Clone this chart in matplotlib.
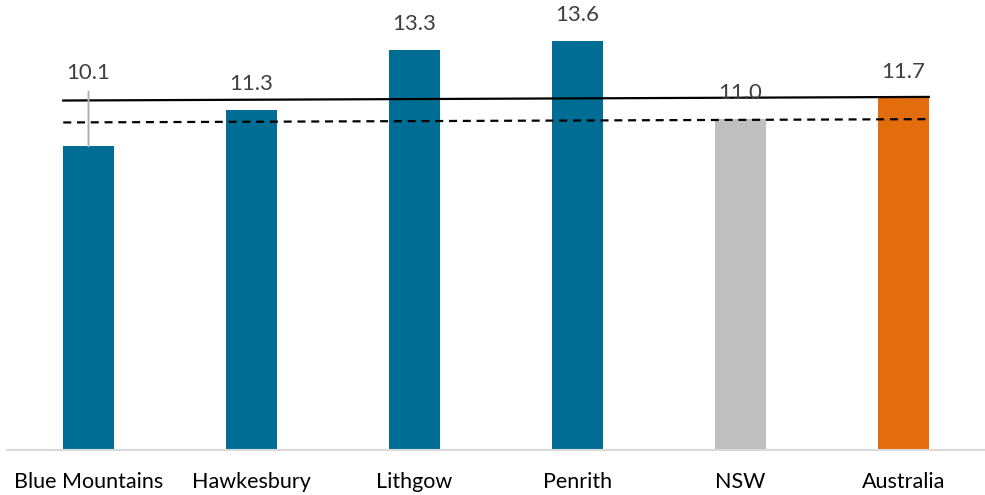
import matplotlib
matplotlib.use("Agg")
import matplotlib.pyplot as plt

categories = ["Blue Mountains", "Hawkesbury", "Lithgow", "Penrith", "NSW", "Australia"]
values = [10.1, 11.3, 13.3, 13.6, 11.0, 11.7]
value_labels = ["10.1", "11.3", "13.3", "13.6", "11.0", "11.7"]
bar_colors = ["#006D94", "#006D94", "#006D94", "#006D94", "#BFBFBF", "#E36C0C"]
# reference lines (start, end) values
australia_line = [11.63, 11.75]
nsw_line = [10.90, 11.01]

plt.rcParams['font.family'] = ['Lato', 'DejaVu Sans']

fig = plt.figure(figsize=(9.85, 4.95), dpi=100)
ax = fig.add_axes([7/985, 45/495, 978/985, 450/495])
x = list(range(len(categories)))
bw = 0.31
ax.bar(x, values, width=bw, color=bar_colors, zorder=2)
ax.set_xlim(-0.5, len(categories) - 0.5)
ax.set_ylim(0, 450/30.05)

xl = [x[0] - bw/2, x[-1] + bw/2]
ax.plot(xl, australia_line, color="black", lw=1.6, zorder=3)
ax.plot(xl, nsw_line, color="black", lw=1.6, ls=(0, (3.6, 2.6)), zorder=3)

for i, (v, lab) in enumerate(zip(values, value_labels)):
    if i == 0:
        ax.annotate(lab, xy=(i, v), xytext=(0, 73*0.72), textcoords="offset points",
                    ha="center", va="center", fontsize=16, color="#404040", zorder=4)
        ax.annotate("", xy=(i, v), xytext=(0, 55*0.72), textcoords="offset points",
                    arrowprops=dict(arrowstyle="-", color="#B0B0B0", lw=1.4, shrinkA=0, shrinkB=0))
    else:
        ax.annotate(lab, xy=(i, v), xytext=(0, 26*0.72), textcoords="offset points",
                    ha="center", va="center", fontsize=16, color="#404040", zorder=4)

for s in ["left", "right", "top"]:
    ax.spines[s].set_visible(False)
ax.spines["bottom"].set_color("#D9D9D9")
ax.spines["bottom"].set_linewidth(1.5)
ax.set_yticks([])
ax.set_xticks(x)
ax.set_xticklabels(categories, fontsize=15.5, color="#000000")
ax.tick_params(axis="x", length=0, pad=15.5)

fig.savefig("out.png", dpi=100)
